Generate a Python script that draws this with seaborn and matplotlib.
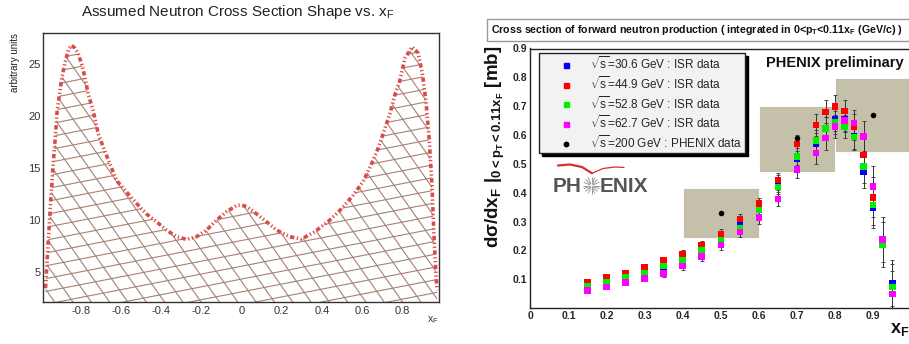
import numpy as np
import pandas as pd
import seaborn as sns
import matplotlib.pyplot as plt
from matplotlib.collections import LineCollection
from matplotlib.lines import Line2D
from matplotlib.patches import Rectangle
from matplotlib.ticker import MultipleLocator, FixedLocator

# ---- left panel: assumed neutron cross section shape
shape_xf = [-0.975, -0.970, -0.965, -0.959, -0.954, -0.949, -0.942, -0.937, -0.930, -0.924,
            -0.917, -0.907, -0.896, -0.879, -0.860, -0.845, -0.830, -0.813, -0.796, -0.779,
            -0.763, -0.738, -0.713, -0.688, -0.655, -0.622, -0.572, -0.522, -0.473, -0.423,
            -0.373, -0.323, -0.274, -0.224, -0.174, -0.124, -0.075, -0.025, 0.0, 0.025,
            0.075, 0.124, 0.174, 0.240, 0.299, 0.365, 0.439, 0.498, 0.556, 0.605,
            0.647, 0.680, 0.705, 0.738, 0.763, 0.788, 0.813, 0.849, 0.879, 0.900,
            0.917, 0.934, 0.948, 0.957, 0.967, 0.973]
shape_val = [3.5, 5.1, 6.8, 8.7, 10.3, 11.9, 13.8, 15.4, 17.0, 18.6,
             20.5, 21.8, 23.4, 25.0, 26.4, 26.75, 26.5, 26.0, 25.0, 23.7,
             22.1, 20.5, 18.3, 17.0, 15.4, 13.8, 12.7, 11.6, 10.6, 9.85,
             9.05, 8.41, 8.16, 8.41, 9.05, 10.0, 10.8, 11.4, 11.44, 11.3,
             10.6, 9.85, 9.05, 8.41, 8.19, 8.9, 10.0, 11.1, 12.4, 13.7,
             15.4, 16.9, 18.3, 20.2, 22.0, 23.4, 25.5, 26.6, 26.0, 24.0,
             21.5, 17.7, 13.2, 8.7, 4.9, 3.3]

# ---- right panel: forward neutron cross section [mb]
isr_xf = [0.15, 0.2, 0.25, 0.3, 0.35, 0.4, 0.45, 0.5, 0.55, 0.6, 0.65,
          0.7, 0.75, 0.775, 0.8, 0.825, 0.85, 0.875, 0.9, 0.925, 0.95]
isr_err = [0.006, 0.007, 0.008, 0.009, 0.011, 0.013, 0.015, 0.017, 0.018, 0.02, 0.025,
           0.03, 0.038, 0.04, 0.04, 0.04, 0.045, 0.055, 0.07, 0.078, 0.08]
isr_306 = [0.074, 0.088, 0.104, 0.121, 0.135, 0.157, 0.19, 0.242, 0.288, 0.354, 0.435,
           0.516, 0.568, 0.623, 0.655, 0.653, 0.595, 0.471, 0.349, np.nan, 0.086]
isr_449 = [0.090, 0.106, 0.122, 0.141, 0.164, 0.187, 0.219, 0.257, 0.308, 0.363, 0.444,
           0.569, 0.634, 0.680, 0.698, 0.683, 0.629, 0.531, 0.384, np.nan, np.nan]
isr_528 = [0.074, 0.088, 0.105, 0.122, 0.146, 0.167, 0.199, 0.236, 0.276, 0.340, 0.419,
           0.526, 0.581, 0.622, 0.644, 0.629, 0.593, 0.490, 0.357, 0.219, 0.072]
isr_627 = [0.060, 0.072, 0.088, 0.103, 0.120, 0.146, 0.178, 0.219, 0.263, 0.313, 0.378,
           0.481, 0.537, 0.589, 0.630, 0.650, 0.642, 0.594, 0.421, 0.238, 0.048]

phenix_xf = [0.5, 0.7, 0.9]
phenix_val = [0.328, 0.589, 0.670]
phenix_sys_lo = [0.242, 0.473, 0.542]
phenix_sys_hi = [0.415, 0.701, 0.799]

series_names = [r'$\sqrt{s}$=30.6 GeV : ISR data', r'$\sqrt{s}$=44.9 GeV : ISR data',
                r'$\sqrt{s}$=52.8 GeV : ISR data', r'$\sqrt{s}$=62.7 GeV : ISR data']
phenix_name = r'$\sqrt{s}$=200 GeV : PHENIX data'
series_colors = ['#0000ff', '#ff0000', '#00ee00', '#ff00ff']

isr = pd.DataFrame({'xF': isr_xf, 'err': isr_err,
                    series_names[0]: isr_306, series_names[1]: isr_449,
                    series_names[2]: isr_528, series_names[3]: isr_627})
isr_long = isr.melt(id_vars=['xF', 'err'], var_name='series', value_name='val').dropna()

sns.set_style('white')
plt.rcParams['font.family'] = ['Liberation Sans', 'DejaVu Sans']
plt.rcParams['mathtext.fontset'] = 'custom'
plt.rcParams['mathtext.rm'] = 'Liberation Sans'
plt.rcParams['mathtext.it'] = 'Liberation Sans:italic'
plt.rcParams['mathtext.bf'] = 'Liberation Sans:bold'
plt.rcParams['mathtext.default'] = 'regular'

W, H = 909, 344
fig = plt.figure(figsize=(W / 100, H / 100), dpi=100)


def px_box(x0, y0, x1, y1):
    return [x0 / W, 1 - y1 / H, (x1 - x0) / W, (y1 - y0) / H]


# ================= left panel =================
ax1 = fig.add_axes(px_box(43.3, 33.3, 439.3, 302))
ybot = 2.16
ax1.set_xlim(-0.986, 0.984)
ax1.set_ylim(ybot, 27.9)

poly = ax1.fill_between(shape_xf, shape_val, ybot, facecolor='none', edgecolor='none')

# ROOT style cross hatching, clipped to the filled area
aw, ah = 396.0, 268.7
segs = []
for ang, step in [(-55, 15.0), (11, 12.6)]:
    t = np.deg2rad(ang)
    d = np.array([np.cos(t), np.sin(t)])
    n = np.array([-np.sin(t), np.cos(t)])
    c0 = np.array([aw / 2, ah / 2])
    R = 500
    for c in np.arange(-R, R, step):
        p0 = c0 + c * n - R * d
        p1 = c0 + c * n + R * d
        segs.append([(p0[0] / aw, p0[1] / ah), (p1[0] / aw, p1[1] / ah)])
hatch = LineCollection(segs, colors='#a58272', linewidths=0.8, transform=ax1.transAxes)
ax1.add_collection(hatch)
hatch.set_clip_path(poly.get_paths()[0], ax1.transData)

sns.lineplot(x=shape_xf, y=shape_val, ax=ax1, estimator=None, color='#dd4a48',
             lw=2.6, linestyle=(0, (1.2, 0.7, 0.35, 0.7, 0.35, 0.7)))

ax1.xaxis.set_major_locator(FixedLocator([-0.8, -0.6, -0.4, -0.2, 0, 0.2, 0.4, 0.6, 0.8]))
ax1.xaxis.set_minor_locator(MultipleLocator(0.05))
ax1.yaxis.set_major_locator(FixedLocator([5, 10, 15, 20, 25]))
ax1.yaxis.set_minor_locator(MultipleLocator(1))
ax1.set_xticklabels(['-0.8', '-0.6', '-0.4', '-0.2', '0', '0.2', '0.4', '0.6', '0.8'])
ax1.tick_params(axis='x', which='major', direction='in', length=6, width=0.8,
                labelsize=8, labelcolor='#333333', pad=3, color='#333333')
ax1.tick_params(axis='x', which='minor', direction='in', length=3, width=0.6, color='#333333')
ax1.tick_params(axis='y', which='major', direction='in', length=8.5, width=0.8,
                labelsize=8, labelcolor='#333333', pad=2, color='#333333')
ax1.tick_params(axis='y', which='minor', direction='in', length=4.5, width=0.6, color='#555555')
for sp in ax1.spines.values():
    sp.set_color('#333333')
    sp.set_linewidth(1.0)
ax1.set_xlabel('')
ax1.set_ylabel('')

fig.text(238 / W, 1 - 12 / H, r'Assumed Neutron Cross Section Shape vs. x$_{F}$',
         ha='center', va='center', fontsize=11, color='#222222')
fig.text(15.5 / W, 1 - 33 / H, 'arbitrary units', rotation=90, ha='center', va='top',
         fontsize=7, color='#222222')
fig.text(433 / W, 1 - 320 / H, r'x$_F$', ha='center', va='center', fontsize=7.5,
         color='#333333')

# ================= right panel =================
ax2 = fig.add_axes(px_box(530.3, 48.5, 911.3, 308))
ax2.set_xlim(0, 1.0)
ax2.set_ylim(0, 0.9)

ax2.bar(phenix_xf, np.subtract(phenix_sys_hi, phenix_sys_lo), bottom=phenix_sys_lo,
        width=0.2, color='#c4c0aa', edgecolor='white', linewidth=0.6, zorder=1)

for name in series_names:
    ax2.errorbar(isr['xF'], isr[name], yerr=isr['err'], fmt='none', ecolor='#333333',
                 elinewidth=0.7, capsize=1.3, capthick=0.6, zorder=2)

sns.scatterplot(data=isr_long, x='xF', y='val', hue='series', hue_order=series_names,
                palette=series_colors, marker='s', s=22, linewidth=0, legend=False,
                ax=ax2, zorder=3)
sns.scatterplot(x=phenix_xf, y=phenix_val, color='black', marker='o', s=16, linewidth=0,
                ax=ax2, zorder=4)

ax2.xaxis.set_major_locator(FixedLocator([0, 0.1, 0.2, 0.3, 0.4, 0.5, 0.6, 0.7, 0.8, 0.9]))
ax2.set_xticklabels(['0', '0.1', '0.2', '0.3', '0.4', '0.5', '0.6', '0.7', '0.8', '0.9'])
ax2.xaxis.set_minor_locator(MultipleLocator(0.025))
ax2.yaxis.set_major_locator(FixedLocator([0.1, 0.2, 0.3, 0.4, 0.5, 0.6, 0.7, 0.8, 0.9]))
ax2.yaxis.set_minor_locator(MultipleLocator(0.02))
ax2.tick_params(axis='both', which='major', direction='in', length=6, width=0.8,
                labelsize=7.5, pad=2.5, color='#444444')
ax2.tick_params(axis='both', which='minor', direction='in', length=3, width=0.6,
                color='#444444')
for lab in ax2.get_xticklabels() + ax2.get_yticklabels():
    lab.set_fontweight('bold')
for sp in ax2.spines.values():
    sp.set_color('#222222')
    sp.set_linewidth(1.0)
ax2.set_xlabel('')
ax2.set_ylabel('')

handles = [Line2D([], [], marker='s', color=c, linestyle='none', markersize=3.6)
           for c in series_colors]
handles.append(Line2D([], [], marker='o', color='black', linestyle='none', markersize=3.2))
leg = ax2.legend(handles, series_names + [phenix_name], loc='upper left',
                 bbox_to_anchor=(0.023, 0.982), borderaxespad=0, fontsize=8.5,
                 frameon=True, fancybox=False, facecolor='#f2f2f2', edgecolor='#222222',
                 framealpha=1, handlelength=4.1, handletextpad=0.05, labelspacing=0.24,
                 borderpad=0.2,
                 shadow={'ox': 2.2, 'oy': -2.2, 'facecolor': 'black',
                         'edgecolor': 'black', 'alpha': 1})
leg.get_frame().set_linewidth(1.0)
leg.set_zorder(5)

# title box
fig.add_artist(Rectangle((487 / W, 1 - 41 / H), (915 - 487) / W, 22 / H,
                         transform=fig.transFigure, facecolor='white',
                         edgecolor='#999999', linewidth=1))
fig.text(491 / W, 1 - 30 / H,
         r'Cross section of forward neutron production ( integrated in 0<p$_T$<0.11x$_F$ (GeV/c) )',
         ha='left', va='center', fontsize=7.7, fontweight='bold', color='#111111')

fig.text(766 / W, 1 - 63 / H, 'PHENIX preliminary', ha='left', va='center',
         fontsize=10.5, fontweight='bold', color='#111111')

fig.text(495 / W, 1 - 147 / H, r'd$\sigma$/dx$_F$ $|_{0<p_T<0.11x_F}$ [mb]',
         rotation=90, ha='center', va='center', fontsize=13.5, fontweight='bold',
         color='#111111')
fig.text(890 / W, 1 - 330 / H, r'x$_F$', ha='left', va='center', fontsize=13,
         fontweight='bold', color='#111111')

# PHENIX logo
fig.text(552.5 / W, 1 - 186 / H, 'PH', ha='left', va='center', fontsize=15,
         fontweight='bold', color='#555555')
fig.text(600 / W, 1 - 186 / H, 'ENIX', ha='left', va='center', fontsize=15,
         fontweight='bold', color='#555555')
# sunburst between "PH" and "ENIX"
cx, cy, r = 591.5, 185.5, 8.5
rays = []
for a in np.deg2rad(np.arange(0, 360, 22.5)):
    rays.append([((cx + 1.5 * np.cos(a)) / W, 1 - (cy + 1.5 * np.sin(a)) / H),
                 ((cx + r * np.cos(a)) / W, 1 - (cy + r * np.sin(a)) / H)])
fig.add_artist(LineCollection(rays, colors='#9a9a9a', linewidths=0.7,
                              transform=fig.transFigure))
wing_l = [(558, 165.5), (570, 164.5), (582, 167), (592, 173.3)]
wing_r = [(592, 173.3), (603, 168.5), (615, 167), (624, 167.5)]
for pts, lw in [(wing_l, 1.6), (wing_r, 0.9)]:
    fig.add_artist(Line2D([p[0] / W for p in pts], [1 - p[1] / H for p in pts],
                          transform=fig.transFigure, color='#d03030', lw=lw))

fig.savefig('out.png', dpi=100)
